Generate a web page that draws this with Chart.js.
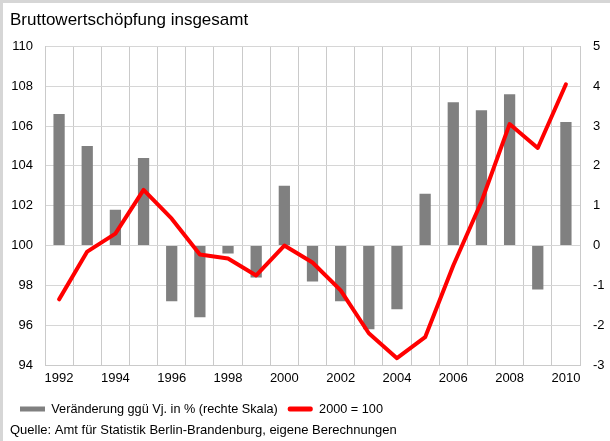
<!DOCTYPE html>
<html>
<head>
<meta charset="utf-8">
<script src="https://cdn.jsdelivr.net/npm/chart.js@4"></script>
<style>
  html, body { margin: 0; padding: 0; background: #fff; }
  #wrap { position: relative; width: 610px; height: 441px; }
  #frame { position: absolute; left: 0; top: 0; right: 0; bottom: 0;
           border-top: 3px solid #d6d6d6; border-left: 3px solid #d6d6d6; pointer-events: none; }
</style>
</head>
<body>
<div id="wrap">
  <canvas id="bwsChart" width="610" height="441"></canvas>
  <div id="frame"></div>
</div>
<script>
// years on the x axis
const years = ['1992', '1993', '1994', '1995', '1996', '1997', '1998', '1999', '2000', '2001',
               '2002', '2003', '2004', '2005', '2006', '2007', '2008', '2009', '2010'];
// change vs previous year in % (right scale)
const changePct = [3.3, 2.5, 0.9, 2.2, -1.4, -1.8, -0.2, -0.8, 1.5, -0.9,
                   -1.4, -2.1, -1.6, 1.3, 3.6, 3.4, 3.8, -1.1, 3.1];
// index 2000 = 100 (left scale)
const index2000 = [97.3, 99.7, 100.6, 102.8, 101.35, 99.55, 99.35, 98.5, 100.0, 99.15,
                   97.75, 95.6, 94.35, 95.4, 99.0, 102.2, 106.1, 104.9, 108.1];
const leftTicks = { min: 94, max: 110, step: 2 };
const rightTicks = { min: -3, max: 5, step: 1 };

Chart.defaults.font.family = '"Liberation Sans", Arial, sans-serif';
Chart.defaults.color = '#000';

const gridColor = '#d6d6d6';
const vGridColor = '#cacaca';

const ctx = document.getElementById('bwsChart').getContext('2d');
const chart = new Chart(ctx, {
  type: 'bar',
  data: {
    labels: years,
    datasets: [{
      label: 'Veränderung ggü Vj. in % (rechte Skala)',
      data: changePct,
      backgroundColor: '#808080',
      yAxisID: 'y1',
      barPercentage: 0.4,
      categoryPercentage: 1.0,
      order: 1
    }, {
      type: 'line',
      label: '2000 = 100',
      data: index2000,
      borderColor: '#ff0000',
      backgroundColor: '#ff0000',
      borderWidth: 4,
      borderCapStyle: 'round',
      borderJoinStyle: 'round',
      pointRadius: 0,
      tension: 0,
      yAxisID: 'y',
      order: 0
    }]
  },
  options: {
    responsive: false,
    devicePixelRatio: 1,
    animation: false,
    layout: { padding: { left: 10, right: 4, top: 0, bottom: 3 } },
    scales: {
      x: {
        grid: { color: vGridColor, drawTicks: false, offset: true },
        border: { color: vGridColor },
        ticks: {
          font: { size: 13 },
          padding: 6,
          autoSkip: false,
          maxRotation: 0,
          callback: function(val, i) { return i % 2 === 0 ? years[i] : ''; }
        }
      },
      y: {
        position: 'left',
        min: leftTicks.min,
        max: leftTicks.max,
        grid: { color: gridColor, drawTicks: false },
        border: { color: vGridColor },
        ticks: { stepSize: leftTicks.step, font: { size: 13 }, padding: 12 },
        afterFit: function(scale) { scale.width = 35; }
      },
      y1: {
        position: 'right',
        min: rightTicks.min,
        max: rightTicks.max,
        grid: { drawOnChartArea: false, drawTicks: false },
        border: { color: vGridColor },
        ticks: { stepSize: rightTicks.step, font: { size: 13 }, padding: 13 },
        afterFit: function(scale) { scale.width = 26; }
      }
    },
    plugins: {
      tooltip: { enabled: false },
      title: {
        display: true,
        text: 'Bruttowertschöpfung insgesamt',
        align: 'start',
        font: { size: 17, weight: 'normal' },
        padding: { top: 10, bottom: 16 }
      },
      legend: {
        position: 'bottom',
        align: 'start',
        labels: {
          boxWidth: 25,
          boxHeight: 5,
          font: { size: 12.7 },
          padding: 10,
          sort: function(a, b) { return a.datasetIndex - b.datasetIndex; },
          generateLabels: function(c) {
            const items = Chart.defaults.plugins.legend.labels.generateLabels(c);
            items.forEach(function(it) {
              it.lineWidth = 0;
              if (it.datasetIndex === 1) { it.borderRadius = 2; }
            });
            return items;
          }
        }
      },
      subtitle: {
        display: true,
        position: 'bottom',
        align: 'start',
        text: 'Quelle: Amt für Statistik Berlin-Brandenburg, eigene Berechnungen',
        font: { size: 13 },
        padding: { top: -3, bottom: 0 }
      }
    }
  }
});
</script>
</body>
</html>
